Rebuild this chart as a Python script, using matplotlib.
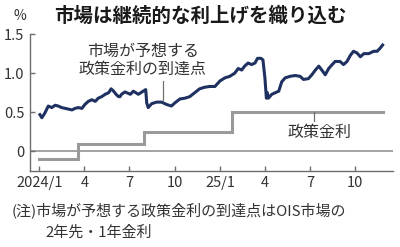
import matplotlib
matplotlib.use('Agg')
import matplotlib.pyplot as plt
import pandas as pd

plt.rcParams['font.family'] = ['Noto Sans CJK JP', 'DejaVu Sans']

# OIS market: expected terminal policy rate (2y fwd 1y rate)
ois_dates = [
    '2024-01-02', '2024-01-06', '2024-01-12', '2024-01-19', '2024-01-26', '2024-02-02',
    '2024-02-08', '2024-02-15', '2024-02-22', '2024-02-29', '2024-03-07', '2024-03-13',
    '2024-03-20', '2024-03-27', '2024-04-02', '2024-04-09', '2024-04-16', '2024-04-23',
    '2024-04-29', '2024-05-06', '2024-05-13', '2024-05-20', '2024-05-25', '2024-05-30',
    '2024-06-04', '2024-06-09', '2024-06-12', '2024-06-15', '2024-06-22', '2024-07-03',
    '2024-07-09', '2024-07-19', '2024-07-29', '2024-08-03', '2024-08-05', '2024-08-08',
    '2024-08-15', '2024-08-25', '2024-09-04', '2024-09-14', '2024-09-24', '2024-10-01',
    '2024-10-11', '2024-10-21', '2024-10-31', '2024-11-10', '2024-11-20', '2024-11-30',
    '2024-12-10', '2024-12-21', '2024-12-31', '2025-01-10', '2025-01-20', '2025-01-30',
    '2025-02-06', '2025-02-13', '2025-02-19', '2025-02-26', '2025-03-05', '2025-03-12',
    '2025-03-17', '2025-03-24', '2025-03-28', '2025-04-01', '2025-04-04', '2025-04-06',
    '2025-04-08', '2025-04-15', '2025-04-22', '2025-04-29', '2025-05-05', '2025-05-12',
    '2025-05-22', '2025-06-01', '2025-06-11', '2025-06-18', '2025-06-28', '2025-07-05',
    '2025-07-12', '2025-07-19', '2025-07-25', '2025-08-01', '2025-08-08', '2025-08-15',
    '2025-08-21', '2025-08-31', '2025-09-07', '2025-09-14', '2025-09-21', '2025-09-27',
    '2025-10-04', '2025-10-11', '2025-10-18', '2025-10-28', '2025-11-07', '2025-11-14',
    '2025-11-20', '2025-11-25',
]
ois_values = [
    0.47, 0.43, 0.49, 0.58, 0.56, 0.59,
    0.58, 0.56, 0.55, 0.54, 0.53, 0.55,
    0.56, 0.55, 0.60, 0.64, 0.66, 0.64,
    0.68, 0.70, 0.73, 0.75, 0.80, 0.77,
    0.73, 0.70, 0.70, 0.73, 0.76, 0.73,
    0.77, 0.73, 0.77, 0.79, 0.62, 0.56,
    0.61, 0.63, 0.63, 0.60, 0.58, 0.62,
    0.67, 0.68, 0.70, 0.75, 0.80, 0.82,
    0.83, 0.83, 0.90, 0.94, 0.96, 1.00,
    1.06, 1.04, 1.09, 1.13, 1.11, 1.13,
    1.19, 1.19, 1.17, 0.94, 0.68, 0.75,
    0.68, 0.73, 0.75, 0.77, 0.89, 0.94,
    0.96, 0.97, 0.96, 0.92, 0.93, 0.98,
    1.04, 1.09, 1.04, 0.98, 1.06, 1.11,
    1.15, 1.15, 1.11, 1.15, 1.23, 1.28,
    1.26, 1.21, 1.25, 1.25, 1.28, 1.28,
    1.32, 1.36,
]

# BOJ policy rate
policy_dates = ['2024-01-01', '2024-03-19', '2024-07-31', '2025-01-24', '2025-11-25']
policy_values = [-0.1, 0.1, 0.25, 0.5, 0.5]

tick_dates = ['2024-01-01', '2024-04-01', '2024-07-01', '2024-10-01',
              '2025-01-01', '2025-04-01', '2025-07-01', '2025-10-01']
tick_labels = ['2024/1', '4', '7', '10', '25/1', '4', '7', '10']

ois_x = pd.to_datetime(ois_dates)
policy_x = pd.to_datetime(policy_dates)

fig = plt.figure(figsize=(4, 2.47), dpi=100)
ax = fig.add_axes([0.075, 0.308, 0.9075, 0.554])

ax.axhline(0, color='#8a8a8a', linewidth=1.1, zorder=1)
ax.plot(policy_x, policy_values, drawstyle='steps-post', color='#9a9a9a',
        linewidth=2.2, solid_joinstyle='miter', zorder=2)
ax.plot(ois_x, ois_values, color='#1e3160', linewidth=2.2, zorder=3)

ax.set_xlim(pd.Timestamp('2023-12-13'), pd.Timestamp('2025-12-16'))
ax.set_ylim(-0.25, 1.5)
ax.set_yticks([0, 0.5, 1.0, 1.5])
ax.set_yticklabels(['0', '0.5', '1.0', '1.5'])
ax.set_xticks(pd.to_datetime(tick_dates))
ax.set_xticklabels(tick_labels)

for side in ['top', 'right']:
    ax.spines[side].set_visible(False)
for side in ['left', 'bottom']:
    ax.spines[side].set_color('#6e6e6e')
    ax.spines[side].set_linewidth(1.0)
ax.tick_params(axis='both', direction='in', length=3.5, width=1.0,
               color='#6e6e6e', labelsize=10.5, labelcolor='#333333', pad=4)
ax.patch.set_alpha(0)

# leader lines and labels
ax.plot(pd.to_datetime(['2024-09-07', '2024-09-07']), [0.90, 0.66],
        color='#707070', linewidth=0.9)
ax.text(pd.Timestamp('2024-07-28'), 1.16, '市場が予想する\n政策金利の到達点',
        fontsize=11.5, color='#333333', ha='center', va='center', linespacing=1.05)
ax.plot(pd.to_datetime(['2025-07-10', '2025-07-10']), [0.5, 0.39],
        color='#707070', linewidth=0.9)
ax.text(pd.Timestamp('2025-07-20'), 0.24, '政策金利',
        fontsize=11.5, color='#333333', ha='center', va='center')

fig.text(0.5, 1 - 16 / 247, '市場は継続的な利上げを織り込む', fontsize=14,
         fontweight='bold', color='#1a1a1a', ha='center', va='center')
fig.text(20 / 400, 1 - 16 / 247, '%', fontsize=10, color='#333333',
         ha='center', va='center')
fig.text(12 / 400, 1 - 210 / 247, '(注)市場が予想する政策金利の到達点はOIS市場の',
         fontsize=10.8, color='#333333', ha='left', va='center')
fig.text(45 / 400, 1 - 233 / 247, '2年先・1年金利',
         fontsize=10.8, color='#333333', ha='left', va='center')

fig.savefig('out.png', dpi=100)
